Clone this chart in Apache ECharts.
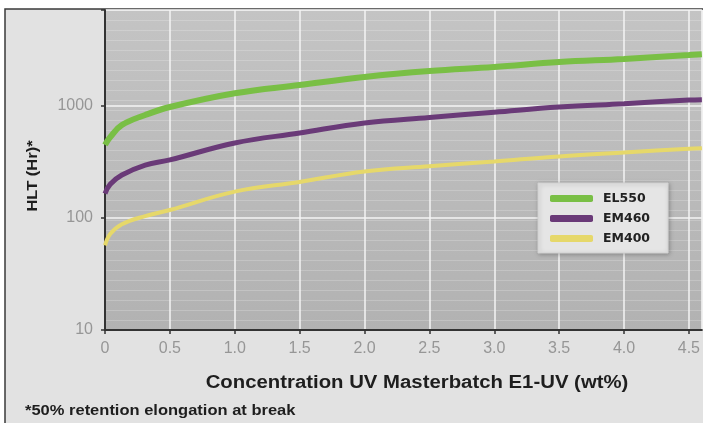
<!DOCTYPE html>
<html>
<head>
<meta charset="utf-8">
<script src="https://cdn.jsdelivr.net/npm/echarts@6/dist/echarts.min.js"></script>
<style>
html,body{margin:0;padding:0;background:#ffffff;}
#chart{width:703px;height:423px;}
</style>
</head>
<body>
<div id="chart"></div>
<script>
// Concentration (wt%)
const xEL550 = [0, 0.04, 0.13, 0.31, 0.5, 1.0, 1.5, 2.0, 2.5, 3.0, 3.5, 4.0, 4.5, 4.6];
const yEL550 = [450, 528, 676, 831, 980, 1300, 1540, 1815, 2050, 2230, 2470, 2630, 2850, 2900];
const xEM460 = [0, 0.04, 0.13, 0.31, 0.5, 1.0, 1.5, 2.0, 2.5, 3.0, 3.5, 4.0, 4.5, 4.6];
const yEM460 = [165, 200, 242, 297, 330, 468, 574, 705, 790, 880, 980, 1050, 1130, 1140];
const xEM400 = [0, 0.04, 0.13, 0.31, 0.5, 1.0, 1.5, 2.0, 2.5, 3.0, 3.5, 4.0, 4.5, 4.6];
const yEM400 = [57, 72, 88, 104, 118, 172, 210, 260, 290, 320, 355, 385, 415, 420];
const seriesNames = ['EL550', 'EM460', 'EM400'];
const yTickLabels = [10, 100, 1000];
const xTitle = 'Concentration UV Masterbatch E1-UV (wt%)';
const yTitle = 'HLT (Hr)*';
const footnote = '*50% retention elongation at break';

const zip = (xs, ys) => xs.map((x, i) => [x, ys[i]]);
const FONT = '"Liberation Sans", Arial, sans-serif';

const chart = echarts.init(document.getElementById('chart'));
chart.setOption({
  animation: false,
  backgroundColor: 'transparent',
  graphic: [
    { type: 'rect', z: -10, silent: true,
      shape: { x: 5, y: 9, width: 720, height: 440 },
      style: { fill: '#e2e2e2', stroke: '#3a3a3a', lineWidth: 1.5 } },
    { type: 'text', x: 417, y: 383, scaleX: 1.13, z: 10, silent: true,
      style: { text: xTitle, x: 0, y: 0, fill: '#1e1e1e', font: 'bold 18px ' + FONT,
        textAlign: 'center', textVerticalAlign: 'middle' } },
    { type: 'text', x: 25, y: 411, scaleX: 1.1, z: 10, silent: true,
      style: { text: footnote, x: 0, y: 0, fill: '#1e1e1e', font: 'bold 15px ' + FONT,
        textAlign: 'left', textVerticalAlign: 'middle' } },
    { type: 'text', x: 33, y: 176, rotation: Math.PI / 2, scaleX: 1.1, z: 10, silent: true,
      style: { text: yTitle, x: 0, y: 0, fill: '#1e1e1e', font: 'bold 15px ' + FONT,
        textAlign: 'center', textVerticalAlign: 'middle' } }
  ],
  grid: {
    left: 105, top: 10, right: 0, bottom: 93, show: true,
    backgroundColor: { type: 'linear', x: 0, y: 0, x2: 0, y2: 1,
      colorStops: [{ offset: 0, color: '#c4c4c4' }, { offset: 1, color: '#b2b2b2' }] },
    borderWidth: 0
  },
  legend: {
    data: seriesNames,
    left: 538, top: 183,
    orient: 'vertical',
    padding: [8, 18, 7, 12],
    itemGap: 5,
    itemWidth: 43,
    itemHeight: 7,
    icon: 'roundRect',
    backgroundColor: '#e5e5e5',
    borderColor: '#d2d2d2',
    borderWidth: 1,
    shadowBlur: 4,
    shadowColor: 'rgba(0,0,0,0.25)',
    shadowOffsetX: 1, shadowOffsetY: 1,
    textStyle: { fontFamily: '"DejaVu Sans", sans-serif', fontWeight: 'bold', fontSize: 12.5,
      color: '#222', padding: [0, 0, 0, 5], lineHeight: 15 }
  },
  xAxis: {
    type: 'value', min: 0, max: 4.6, interval: 0.5,
    axisLine: { lineStyle: { color: '#333', width: 2 } },
    axisTick: { show: true, length: 4, lineStyle: { color: '#333', width: 1.5 } },
    axisLabel: { color: '#969696', fontSize: 16, fontFamily: FONT, margin: 11, showMaxLabel: false,
      formatter: v => (v === 0 ? '0' : v.toFixed(1)) },
    splitLine: { show: true, lineStyle: { color: '#f4f4f4', width: 1.5 } }
  },
  yAxis: [{
    type: 'log', logBase: 10, min: 10, max: 7200,
    axisLine: { show: true, lineStyle: { color: '#333', width: 2 } },
    axisTick: { show: true, length: 4, lineStyle: { color: '#333', width: 1.5 } },
    axisLabel: { color: '#969696', fontSize: 16, fontFamily: FONT, margin: 12,
      formatter: v => (yTickLabels.some(t => Math.abs(t - v) < 1e-6) ? String(Math.round(v)) : '') },
    splitLine: { show: true, lineStyle: { color: '#f4f4f4', width: 1.5 } }
  }, {
    type: 'value', min: 0, max: 32, interval: 1, position: 'right',
    axisLine: { show: false }, axisTick: { show: false }, axisLabel: { show: false },
    splitLine: { show: true, lineStyle: { color: 'rgba(255,255,255,0.2)', width: 1 } }
  }],
  series: [
    { name: 'EL550', type: 'line', smooth: 0.4, showSymbol: false, yAxisIndex: 0,
      data: zip(xEL550, yEL550), color: '#79bf45',
      lineStyle: { width: 6, color: '#79bf45' } },
    { name: 'EM460', type: 'line', smooth: 0.4, showSymbol: false, yAxisIndex: 0,
      data: zip(xEM460, yEM460), color: '#6a3a78',
      lineStyle: { width: 5, color: '#6a3a78' } },
    { name: 'EM400', type: 'line', smooth: 0.4, showSymbol: false, yAxisIndex: 0,
      data: zip(xEM400, yEM400), color: '#e6d86a',
      lineStyle: { width: 4, color: '#e6d86a' } }
  ]
});
</script>
</body>
</html>
